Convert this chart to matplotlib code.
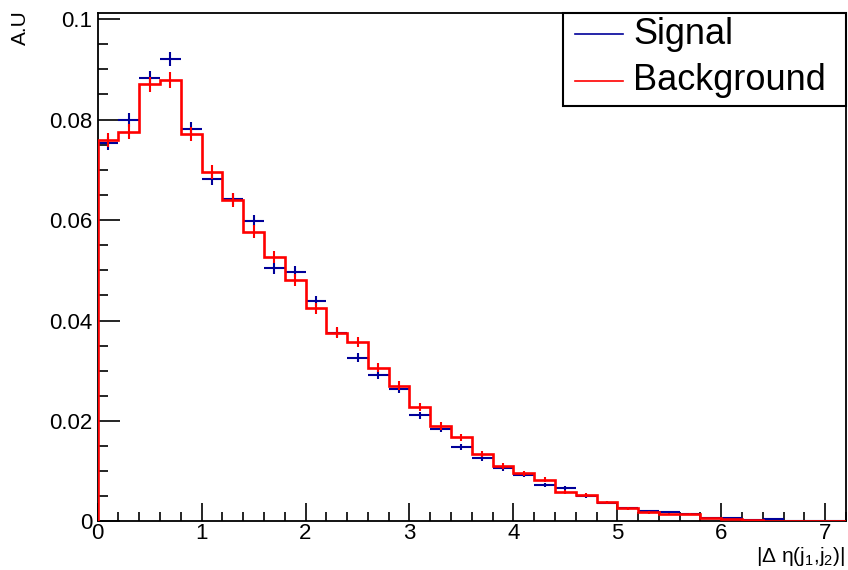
import numpy as np
import matplotlib
matplotlib.use("Agg")
import matplotlib.pyplot as plt
from matplotlib.patches import Rectangle
from matplotlib.ticker import MultipleLocator, FixedLocator, FixedFormatter

plt.rcParams['font.family'] = ['Liberation Sans', 'DejaVu Sans']
plt.rcParams['mathtext.fontset'] = 'custom'
plt.rcParams['mathtext.rm'] = 'Liberation Sans'
plt.rcParams['mathtext.it'] = 'Liberation Sans'

# ---- data ----
bin_edges = np.linspace(0.0, 7.2, 37)

signal = [0.0753, 0.0799, 0.0882, 0.0920, 0.0782, 0.0681, 0.0641, 0.0599, 0.0504,
          0.0497, 0.0439, 0.0376, 0.0326, 0.0291, 0.0264, 0.0211, 0.0184, 0.0148,
          0.0126, 0.0106, 0.0093, 0.0073, 0.0066, 0.0051, 0.0037, 0.0026, 0.0020,
          0.0018, 0.0015, 0.0006, 0.0006, 0.0003, 0.0004, 0.0001, 0.0001, 0.0000]
signal_err = [0.00129, 0.00133, 0.00140, 0.00143, 0.00131, 0.00123, 0.00119, 0.00115,
              0.00106, 0.00105, 0.00098, 0.00091, 0.00085, 0.00080, 0.00076, 0.00068,
              0.00064, 0.00057, 0.00053, 0.00048, 0.00045, 0.00040, 0.00038, 0.00034,
              0.00029, 0.00024, 0.00021, 0.00020, 0.00018, 0.00012, 0.00012, 0.00008,
              0.00009, 0.00005, 0.00005, 0.0]

background = [0.0759, 0.0776, 0.0870, 0.0879, 0.0771, 0.0696, 0.0640, 0.0577, 0.0526,
              0.0481, 0.0424, 0.0376, 0.0358, 0.0306, 0.0270, 0.0227, 0.0190, 0.0168,
              0.0134, 0.0111, 0.0096, 0.0083, 0.0059, 0.0052, 0.0038, 0.0026, 0.0018,
              0.0015, 0.0015, 0.0006, 0.0004, 0.0003, 0.0001, 0.0001, 0.0001, 0.0001]
background_err = [0.00146, 0.00148, 0.00156, 0.00157, 0.00147, 0.00140, 0.00134, 0.00127,
                  0.00122, 0.00116, 0.00109, 0.00103, 0.00100, 0.00093, 0.00087, 0.00080,
                  0.00073, 0.00069, 0.00061, 0.00056, 0.00052, 0.00048, 0.00041, 0.00038,
                  0.00033, 0.00027, 0.00022, 0.00021, 0.00021, 0.00013, 0.00011, 0.00009,
                  0.00005, 0.00005, 0.00005, 0.00005]

y_ticks = [0.0, 0.02, 0.04, 0.06, 0.08, 0.1]
y_ticklabels = ["0", "0.02", "0.04", "0.06", "0.08", "0.1"]
x_ticks = [0, 1, 2, 3, 4, 5, 6, 7]
x_ticklabels = ["0", "1", "2", "3", "4", "5", "6", "7"]

centers = 0.5 * (bin_edges[:-1] + bin_edges[1:])
half_w = 0.5 * np.diff(bin_edges)

SIG_COL = "#000099"
BKG_COL = "#ff0000"

fig = plt.figure(figsize=(8.48, 5.70), dpi=100)
ax = fig.add_axes([0.1152, 0.0851, 0.8824, 0.8921])

ax.errorbar(centers, signal, xerr=half_w, yerr=signal_err, fmt='none',
            ecolor=SIG_COL, elinewidth=1.5, capsize=0, zorder=2)
ax.stairs(background, bin_edges, baseline=0, color=BKG_COL, lw=1.9, zorder=3)
ax.errorbar(centers, background, yerr=background_err, fmt='none',
            ecolor=BKG_COL, elinewidth=1.5, capsize=0, zorder=3)

ax.set_xlim(0, 7.2)
ax.set_ylim(0, 0.1012)

ax.xaxis.set_major_locator(FixedLocator(x_ticks))
ax.xaxis.set_major_formatter(FixedFormatter(x_ticklabels))
ax.xaxis.set_minor_locator(MultipleLocator(0.2))
ax.yaxis.set_major_locator(FixedLocator(y_ticks))
ax.yaxis.set_major_formatter(FixedFormatter(y_ticklabels))
ax.yaxis.set_minor_locator(MultipleLocator(0.005))

ax.tick_params(axis='x', which='major', direction='in', length=12.7, width=1.2,
               labelsize=16, pad=1, top=False)
ax.tick_params(axis='x', which='minor', direction='in', length=6.7, width=1.2, top=False)
ax.tick_params(axis='y', which='major', direction='in', length=15.6, width=1.2,
               labelsize=16, pad=4, right=False)
ax.tick_params(axis='y', which='minor', direction='in', length=7.2, width=1.2, right=False)

for s in ax.spines.values():
    s.set_linewidth(1.3)
    s.set_color('black')

# legend box (ROOT style)
lx0, ly0 = 0.622, 0.817
ax.add_patch(Rectangle((lx0, ly0), 1.0 - lx0, 1.0 - ly0, transform=ax.transAxes,
                       facecolor='white', edgecolor='black', lw=1.5, zorder=5,
                       clip_on=False))
ax.plot([0.638, 0.702], [0.958, 0.958], transform=ax.transAxes, color=SIG_COL,
        lw=1.2, zorder=6)
ax.plot([0.638, 0.702], [0.867, 0.867], transform=ax.transAxes, color=BKG_COL,
        lw=1.2, zorder=6)
ax.text(0.716, 0.958, "Signal", transform=ax.transAxes, fontsize=26,
        va='center', ha='left', zorder=6)
ax.text(0.716, 0.867, "Background", transform=ax.transAxes, fontsize=26,
        va='center', ha='left', zorder=6)

fig.text(0.0245, 0.951, "A.U", rotation=90, fontsize=15, ha='center', va='center')
fig.text(0.997, 0.024, r"|Δ η(j$_1$,j$_2$)|", fontsize=15, ha='right', va='center')

fig.savefig("out.png", dpi=100)
